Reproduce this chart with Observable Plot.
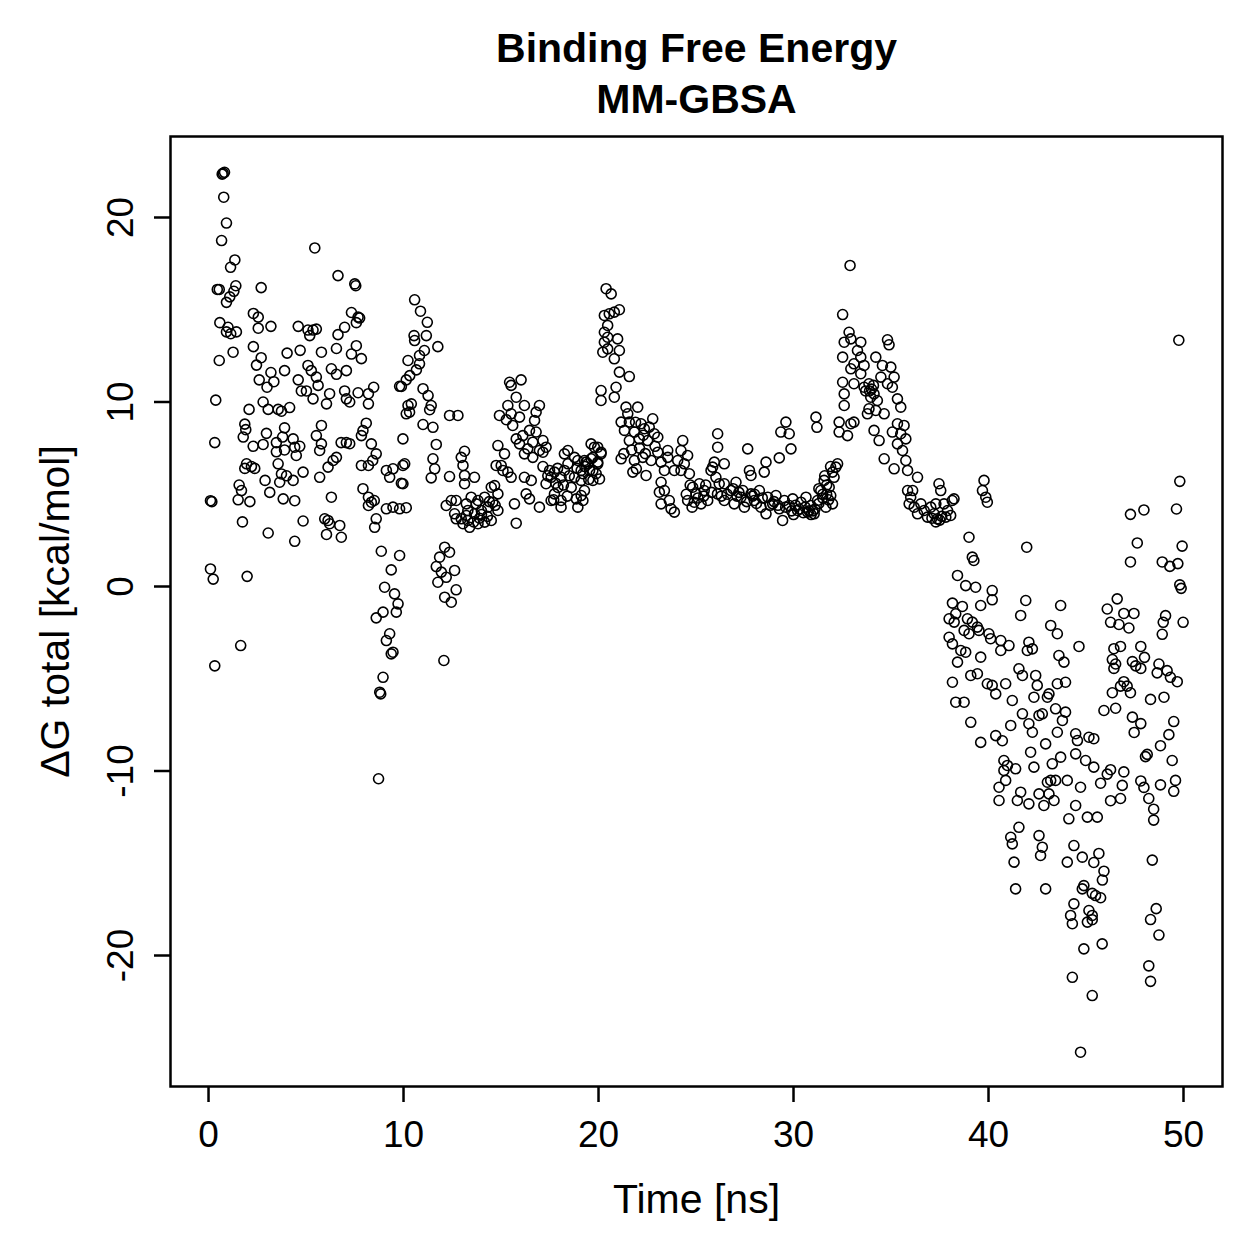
<!DOCTYPE html>
<html>
<head>
<meta charset="utf-8">
<script src="https://cdn.jsdelivr.net/npm/d3@7"></script>
<script src="https://cdn.jsdelivr.net/npm/@observablehq/plot@0.6"></script>
<style>
  body { margin: 0; background: #fff; }
  svg { display: block; }
</style>
</head>
<body>
<div id="chart"></div>
<script>
// MM-GBSA binding free energy per frame: [time (ns), ΔG total (kcal/mol)]
const frames_0_5 = [
  [0.75,22.4],[0.7,22.35],[0.82,22.45],[0.78,21.1],[0.92,19.7],[0.67,18.75],
  [1.35,17.7],[1.13,17.3],[0.45,16.1],[0.55,16.1],[1.4,16.3],[1.3,16.0],[1.09,15.7],[0.92,15.4],
  [2.7,16.2],[0.58,14.3],[1.0,14.05],[1.14,13.7],[1.43,13.8],[0.92,13.8],
  [2.3,14.8],[2.55,14.6],[2.55,14.0],[3.2,14.1],[4.6,14.1],[1.26,12.7],[0.55,12.25],
  [2.3,13.0],[2.7,12.4],[2.46,12.0],[4.03,12.65],[3.9,11.7],[4.7,12.8],
  [3.2,11.6],[2.6,11.2],[3.35,11.1],[3.0,10.8],[4.6,11.2],[4.76,10.6],[0.37,10.1],
  [2.08,9.6],[2.8,10.0],[3.06,9.6],[3.57,9.6],[3.74,9.5],[4.16,9.7],
  [1.86,8.8],[1.91,8.5],[1.78,8.1],[2.97,8.3],[3.9,8.6],[3.8,8.1],[4.34,8.0],[0.32,7.8],
  [2.29,7.6],[2.8,7.7],[3.48,7.8],[3.48,7.3],[3.9,7.4],[4.42,7.55],[4.68,7.6],[4.5,7.1],
  [1.95,6.65],[2.2,6.5],[2.37,6.4],[1.86,6.4],[3.57,6.65],[3.74,6.1],[4.0,6.0],[4.34,5.75],
  [3.65,5.65],[2.9,5.75],[4.85,6.2],[1.57,5.5],[1.69,5.2],[1.52,4.7],[2.12,4.6],[3.14,5.1],
  [3.83,4.75],[4.42,4.65],[0.1,4.65],[0.17,4.6],[1.74,3.5],[3.06,2.9],[4.42,2.45],[4.85,3.55],
  [0.1,0.95],[0.24,0.4],[1.98,0.55],[1.65,-3.2],[0.32,-4.3]
];
const frames_5_10 = [
  [5.45,18.35],[6.64,16.85],[7.5,16.4],[7.55,16.3],
  [7.33,14.85],[7.67,14.6],[7.75,14.55],[7.58,14.3],[6.98,14.05],[6.64,13.65],
  [5.1,13.9],[5.36,13.9],[5.53,13.95],[5.19,13.6],
  [7.58,13.05],[6.56,12.9],[5.79,12.7],[7.33,12.6],[7.84,12.35],
  [5.1,11.98],[5.27,11.7],[5.53,11.35],[6.3,11.8],[6.56,11.5],[7.07,11.7],[5.62,10.9],[5.02,10.6],
  [5.36,10.17],[6.05,9.9],[6.21,10.45],[6.98,10.6],[7.07,10.17],[7.24,10.0],[7.67,10.5],
  [8.2,10.45],[8.47,10.8],[8.2,9.9],[9.8,10.85],
  [5.79,8.73],[5.53,8.18],[5.79,7.73],[5.7,7.37],[6.8,7.8],[7.07,7.8],[7.24,7.74],[8.09,8.85],
  [7.92,8.45],[7.84,8.18],[8.35,7.73],[8.6,7.19],[8.42,6.83],[8.2,6.56],[7.84,6.56],[6.56,7.0],
  [6.39,6.83],[6.13,6.47],[5.7,5.92],[9.12,6.29],[9.46,6.38],[9.29,5.92],[9.97,6.56],[9.97,5.57],
  [6.3,4.84],[7.92,5.3],[8.2,4.84],[8.35,4.57],[8.2,4.39],[8.5,4.66],[9.12,4.21],[9.46,4.3],
  [9.8,4.21],[10.14,4.27],[5.96,3.67],[6.13,3.58],[6.21,3.4],[6.73,3.31],[6.05,2.82],[6.81,2.67],
  [8.6,3.67],[8.52,3.21],[8.86,1.91],[9.37,0.9],[9.8,1.68],[9.03,-0.04],[9.54,-0.4]
];
const frames_10_13 = [
  [10.57,15.54],[10.87,14.92],[11.22,14.32],[11.17,13.6],[10.54,13.6],[10.57,13.33],[11.76,13.0],
  [11.07,12.79],[10.82,12.52],[10.23,12.25],[10.82,12.07],[10.66,11.74],[10.32,11.43],[10.14,11.2],
  [9.89,10.84],[11.0,10.72],[11.26,10.35],[11.42,9.81],[11.34,9.58],[10.23,9.81],[10.4,9.9],
  [10.14,9.36],[10.31,9.45],[11.0,8.78],[11.51,8.63],[12.36,9.27],[12.79,9.27],
  [9.97,8.0],[10.06,6.65],[9.89,5.6],[11.68,7.7],[11.51,6.92],[11.6,6.38],[11.42,5.89],[12.36,5.96],
  [13.13,7.33],[12.96,7.0],[13.05,6.56],[13.13,6.02],[13.13,5.57],
  [12.45,4.66],[12.7,4.66],[12.19,4.39],[12.62,3.94],[12.7,3.67],[12.96,3.67],[13.3,4.12],
  [13.22,3.85],[13.3,3.58],[9.72,-0.94],[9.63,-1.39],[8.95,-1.39],[8.6,-1.7],
  [12.11,2.13],[12.36,1.86],[11.85,1.59],[11.68,1.08],[11.94,0.78],[12.62,0.87],[12.19,0.5],
  [12.7,-0.18],[11.76,0.23],[12.11,-0.58],[12.45,-0.85],
  [9.29,-2.56],[9.12,-2.93],[9.37,-3.65],[9.46,-3.56],[8.95,-4.92],[8.78,-5.73],[8.83,-5.82],
  [12.07,-4.01],[8.72,-10.42]
];
const frames_13_20 = [
  [15.44,11.07],[16.03,11.2],[15.52,10.9],[15.78,10.26],[15.35,9.81],[16.2,9.81],[16.97,9.81],
  [14.92,9.27],[15.52,9.36],[15.95,9.18],[16.8,9.45],[15.27,9.04],[16.72,9.0],
  [15.6,8.73],[16.46,8.46],[16.12,8.18],[16.8,8.37],[15.78,8.0],[15.95,7.73],[16.63,7.82],
  [17.15,7.91],[17.31,7.55],[16.97,7.37],[16.37,7.46],[16.2,7.19],[16.63,7.0],[17.15,7.28],
  [14.84,7.64],[15.18,7.19],[15.01,6.56],[15.1,6.29],[15.35,6.2],[15.52,5.92],[14.75,6.56],[13.64,5.92],
  [16.2,5.92],[16.55,5.75],[16.29,5.02],[16.46,4.75],[16.97,4.3],[15.69,4.48],[15.78,3.43],
  [17.15,6.5],[17.49,6.29],[17.57,5.92],[17.31,5.57],[17.74,6.2],[17.92,5.37],[18.08,5.92],
  [18.25,6.29],[18.43,6.65],[18.77,7.0],[18.43,7.37],[18.25,7.19],[18.94,6.83],[19.28,6.83],
  [19.62,6.92],[19.79,7.55],[19.45,6.65],[19.71,6.29],[19.11,6.29],[18.77,5.92],[19.11,5.75],
  [18.6,5.37],[18.86,4.75],[19.11,4.93],[18.08,4.66],[17.74,5.02],[17.57,4.66],[18.08,4.3],
  [18.94,4.3],[19.96,6.65],[20.05,5.83],
  [13.47,4.84],[13.82,4.66],[14.16,4.84],[14.5,5.38],[14.67,5.47],[14.84,5.02],[14.58,4.57],
  [14.33,4.3],[13.99,4.12],[13.64,3.94],[13.05,3.4],[13.39,3.21],[13.82,3.4],[14.16,3.49],
  [14.5,3.58],[14.84,4.12],[13.73,4.48],[13.22,4.48],
  [13.9,3.7],[14.0,3.9],[14.3,3.8],[14.4,4.6],[13.6,3.5],[14.7,4.4],
  [17.4,6.0],[17.8,5.6],[18.2,5.5],[18.5,6.0],[18.9,6.4],[19.3,6.5],[19.5,5.8],[17.9,6.4],
  [18.4,4.9],[17.7,4.7]
];
const frames_20_26 = [
  [20.39,16.14],[20.65,15.86],[20.3,14.69],[20.55,14.78],[20.81,14.87],[21.07,15.0],[20.47,14.15],
  [20.3,13.78],[20.47,13.51],[20.98,13.42],[20.3,13.24],[20.22,12.7],[20.47,12.88],[20.81,12.34],
  [21.07,12.79],[21.07,11.62],[21.58,11.38],[20.13,10.62],[20.13,10.08],[20.9,10.8],[20.81,10.26],
  [21.41,9.72],[22.01,9.72],[21.5,9.36],[21.16,8.91],[21.58,8.91],[22.18,8.82],[22.78,9.09],
  [21.33,8.46],[21.84,8.37],[22.35,8.55],[22.6,8.64],[22.86,8.28],[22.09,8.0],[22.52,7.91],
  [21.58,7.91],[23.04,8.09],[21.16,6.92],[21.84,6.83],[22.27,7.0],[22.7,6.83],[23.04,7.28],
  [23.55,7.37],[23.21,6.74],[21.94,6.38],[22.44,6.02],[21.76,6.2],[23.38,6.29],
  [24.32,7.91],[24.23,7.37],[24.57,7.1],[24.06,6.83],[24.4,6.65],[23.89,6.29],[24.66,6.11],
  [24.23,6.29],[23.55,7.0],[23.21,5.65],[23.38,5.2],[23.12,5.11],[23.63,4.66],[23.72,4.21],
  [23.89,4.03],[23.21,4.48],[24.83,5.38],[25.17,5.57],[25.42,5.2],[25.0,5.02],[25.6,4.66],
  [24.91,4.57],[25.26,4.48],[24.57,4.66],[26.11,8.28],[26.11,7.55],[25.94,6.74],[25.77,6.29],
  [26.02,5.92],[26.19,5.57],
  [19.62,7.73],[19.96,7.55],[20.13,7.19],[19.71,7.0],[19.36,6.74],[19.96,6.74],[19.54,6.29],
  [19.88,6.11],[19.2,6.11],[19.71,5.75],[19.28,5.2],[19.2,4.66],[20.13,7.28],
  [21.3,7.2],[21.7,7.4],[22.1,7.5],[22.4,7.2],[22.9,7.6],[21.9,8.9],[22.3,8.2],
  [24.5,5.0],[24.7,5.5],[25.1,4.8],[25.4,4.9],[24.8,4.3],[25.8,5.1],[25.5,5.5]
];
const frames_26_32 = [
  [32.52,11.07],[32.6,10.44],[32.6,9.81],[32.34,8.91],[32.34,8.37],[32.77,8.18],
  [31.15,9.18],[31.2,8.63],[29.61,8.91],[29.35,8.37],[29.78,8.28],[29.87,7.46],[29.27,6.97],
  [28.59,6.74],[28.5,6.2],[27.74,6.29],[27.82,6.02],[27.65,7.46],[26.45,6.65],[25.85,6.47],
  [26.45,5.57],[27.05,5.65],
  [26.1,5.02],[26.45,4.66],[26.79,5.2],[26.96,4.48],[27.31,4.84],[27.48,4.3],[27.82,5.02],
  [27.99,4.66],[28.25,5.2],[28.33,4.3],[28.59,3.94],[28.68,4.84],[28.93,4.48],[29.1,4.93],
  [29.27,4.21],[29.44,3.58],[29.53,4.66],[29.78,4.39],[29.96,4.75],[30.21,4.12],[30.38,4.57],
  [30.64,4.84],[30.72,4.03],[30.89,4.39],[31.06,3.94],[31.23,4.66],[31.4,5.2],[31.57,5.75],
  [31.66,4.3],[31.83,5.38],[31.91,4.93],[32.08,5.92],[32.17,6.47],[32.26,6.65],[32.0,4.48],
  [26.6,5.0],[26.9,5.3],[27.1,4.9],[27.2,5.1],[27.6,4.6],[27.9,4.9],[28.1,4.5],[28.4,4.8],
  [28.8,4.4],[29.0,4.6],[29.2,4.4],[29.6,4.3],[29.9,4.1],[30.1,4.4],[30.3,4.2],[30.5,4.0],
  [30.6,4.3],[30.8,4.1],[31.0,4.1],[31.1,4.2],[31.3,4.5],[31.5,4.8],[31.7,5.0],[30.0,3.9],
  [30.9,3.9],[28.0,5.0],[27.4,5.2],[26.3,4.9]
];
const frames_32_38 = [
  [32.9,17.4],[32.52,14.74],[32.85,13.78],[32.94,13.42],[32.6,13.24],[33.45,13.24],[34.82,13.37],
  [34.9,13.1],[33.28,12.79],[32.52,12.43],[33.45,12.43],[33.1,12.07],[33.62,11.98],[34.22,12.43],
  [34.56,11.98],[34.99,11.89],[32.94,11.8],[33.45,11.53],[33.1,10.99],[33.62,10.8],[33.87,10.99],
  [34.13,10.44],[34.48,11.35],[34.82,10.99],[35.07,10.8],[35.16,11.35],[33.96,10.26],[34.3,10.08],
  [35.33,10.17],[35.5,9.72],[33.87,9.63],[33.79,9.36],[34.22,9.54],[34.65,9.36],[32.94,8.82],
  [33.1,8.91],[34.13,8.46],[34.39,7.91],[35.07,8.37],[35.33,8.82],[35.67,8.73],[35.5,8.28],
  [35.76,8.0],[35.33,7.73],[35.59,7.37],[34.65,6.92],[35.16,6.38],[35.76,6.83],[35.85,6.29],
  [36.36,5.92],[36.11,5.2],[33.9,10.6],[34.0,10.7],[34.1,10.9],[33.7,10.6],
  [35.85,5.2],[36.01,4.84],[35.93,4.48],[36.19,4.3],[36.36,3.94],[36.53,4.48],[36.7,4.12],
  [36.87,3.76],[37.04,4.3],[37.21,3.94],[37.38,3.67],[37.46,5.57],[37.55,5.2],[37.72,4.48],
  [37.9,4.12],[38.06,3.85],[38.14,4.66],[38.23,4.75],[37.81,3.76],[37.3,4.48],
  [31.6,6.0],[31.9,6.5],[32.0,6.2],[31.7,5.5],[31.5,5.0],[31.8,4.7],[31.3,5.3],
  [37.3,3.5],[37.5,3.6],[37.6,3.8],[37.1,3.7]
];
const frames_38_42 = [
  [39.77,5.75],[39.69,5.2],[39.86,4.84],[39.94,4.57],[39.0,2.67],[39.17,1.59],[39.25,1.41],[41.96,2.13],
  [38.41,0.6],[38.83,0.05],[39.34,-0.04],[40.19,-0.22],[40.19,-0.72],[39.6,-1.03],[38.15,-0.9],
  [38.66,-1.08],[37.98,-1.75],[38.32,-1.48],[38.24,-1.93],[38.92,-1.75],[39.17,-1.93],[39.43,-2.2],
  [38.75,-2.38],[39.0,-2.56],[39.51,-2.38],[40.02,-2.56],[40.11,-2.83],[37.98,-2.75],[38.15,-3.11],
  [38.58,-3.47],[38.83,-3.56],[38.41,-4.1],[39.6,-3.83],[39.09,-4.82],[39.43,-4.73],[38.15,-5.19],
  [38.32,-6.27],[38.75,-6.27],[39.94,-5.27],[40.19,-5.36],[40.71,-8.36],[41.91,-0.76],[41.65,-1.57],
  [39.6,-8.45],[39.09,-7.36]
];
const frames_40_46 = [
  [43.7,-1.03],[43.19,-2.11],[43.53,-2.56],[44.64,-3.25],[43.61,-3.74],[43.87,-4.1],[42.07,-3.02],
  [41.99,-3.47],[42.25,-3.38],[41.05,-3.2],[40.63,-2.93],[40.63,-3.47],[41.56,-4.46],[41.74,-4.82],
  [42.42,-4.82],[42.5,-5.36],[43.53,-5.27],[43.95,-5.19],[43.1,-5.82],[43.02,-6.0],[40.88,-5.27],
  [40.37,-5.82],[41.22,-6.18],[42.33,-6.0],[41.74,-6.9],[42.59,-6.99],[42.76,-6.9],[43.44,-6.63],
  [43.95,-6.81],[43.79,-7.26],[42.07,-7.44],[42.25,-7.9],[41.14,-7.53],[43.53,-7.9],[42.93,-8.53],
  [42.16,-8.98],[40.37,-8.08],[44.47,-7.98],[44.56,-8.35],[45.15,-8.17],[45.4,-8.25],[44.47,-9.07],
  [44.98,-9.43],[45.4,-9.79],[43.7,-9.25],[43.27,-9.61],[42.33,-9.79],[40.79,-9.43],[40.97,-9.7],
  [40.79,-9.97],[41.39,-9.88],[40.88,-10.51],[40.54,-10.88],[43.02,-10.61],[43.19,-10.51],
  [43.44,-10.51],[44.04,-10.51],[44.72,-10.88],[42.59,-11.24],[43.1,-11.24],[43.36,-11.6],
  [41.65,-11.15],[41.48,-11.6],[40.54,-11.6],[42.07,-11.78],[42.84,-11.87],[44.47,-11.87],
  [44.12,-12.59],[45.07,-12.5],[45.58,-12.5],[41.56,-13.05],[41.14,-13.59],[41.22,-13.95],
  [42.59,-13.5],[42.76,-14.13],[42.67,-14.58],[44.38,-14.04],[44.81,-14.67],[44.04,-14.94],
  [41.31,-14.94],[41.39,-16.39],[42.93,-16.39],[44.89,-16.21],[44.81,-16.39],[45.49,-16.75],
  [44.38,-17.2],[45.15,-17.56],[45.32,-17.83],[44.21,-17.83],[44.3,-18.28],[45.07,-18.19],
  [44.89,-19.64],[44.3,-21.18],[45.32,-22.17],[44.72,-25.24],[45.83,-19.37]
];
const frames_46_50 = [
  [49.76,13.35],[49.81,5.7],[47.28,3.91],[47.97,4.15],[49.64,4.2],[47.63,2.36],[49.93,2.19],
  [47.28,1.33],[48.91,1.33],[49.3,1.09],[49.71,1.24],[49.81,0.09],[49.88,-0.1],[46.6,-0.67],
  [46.09,-1.22],[46.94,-1.46],[47.46,-1.46],[46.26,-1.94],[46.69,-2.06],[47.2,-2.25],[49.08,-1.58],
  [48.96,-1.94],[48.91,-2.59],[49.98,-1.94],
  [46.43,-3.37],[46.77,-3.25],[46.35,-3.96],[46.52,-4.2],[46.43,-4.44],[47.38,-4.07],[47.55,-4.3],
  [47.81,-3.25],[48.0,-3.84],[47.81,-4.44],[48.74,-4.2],[48.65,-4.68],[49.16,-4.56],[49.33,-4.92],
  [49.68,-5.16],[49.0,-6.0],[48.31,-6.12],[46.94,-5.16],[47.11,-5.4],[47.28,-5.76],[46.77,-5.4],
  [46.35,-5.76],[45.92,-6.72],[46.52,-6.6],[47.38,-7.08],[47.81,-7.43],[47.47,-7.91],[48.14,-9.1],
  [48.05,-9.22],[48.82,-8.63],[49.25,-8.03],[49.5,-7.32],[49.42,-9.43],[49.59,-10.51],[49.5,-11.1],
  [48.82,-10.75],[48.47,-12.07],[48.47,-12.66],[47.81,-10.54],[47.97,-10.89],[48.22,-11.49],
  [46.94,-10.05],[46.86,-10.78],[46.26,-9.93],[46.09,-10.17],[45.75,-10.66],[46.77,-11.49],
  [46.26,-11.61],[45.66,-14.47],[45.4,-14.96],[45.92,-15.43],[45.84,-15.91],[45.32,-16.63],
  [45.75,-16.87],[45.32,-18.06],[48.4,-14.83],[48.6,-17.46],[48.31,-18.05],[48.74,-18.89],
  [48.22,-20.56],[48.31,-21.4]
];

// Axis ticks and text
const xTicks = [0, 10, 20, 30, 40, 50];
const yTicks = [-20, -10, 0, 10, 20];
const titleLines = ["Binding Free Energy", "MM-GBSA"];
const xLabel = "Time [ns]";
const yLabel = "ΔG total [kcal/mol]";

const frames = [
  ...frames_0_5, ...frames_5_10, ...frames_10_13, ...frames_13_20, ...frames_20_26,
  ...frames_26_32, ...frames_32_38, ...frames_38_42, ...frames_40_46, ...frames_46_50
].map(([time, dG]) => ({time, dG}));

const font = "'Liberation Sans', Arial, Helvetica, sans-serif";

const chart = Plot.plot({
  width: 1259,
  height: 1259,
  marginLeft: 170,
  marginRight: 37,
  marginTop: 136,
  marginBottom: 173,
  style: {fontFamily: font, background: "#fff", color: "#000"},
  x: {domain: [-1.95, 52.0]},
  y: {domain: [-27.1, 24.39]},
  marks: [
    Plot.dot(frames, {x: "time", y: "dG", r: 5, stroke: "#000", strokeWidth: 1.6, fill: "none"}),
    Plot.frame({stroke: "#000", strokeWidth: 2.5}),
    Plot.axisX({ticks: xTicks, tickSize: 16, tickPadding: 18, fontSize: 37, strokeWidth: 2.5,
                label: null, tickFormat: d => String(d)}),
    Plot.axisY({ticks: yTicks, tickSize: 16, tickPadding: 22, fontSize: 37, strokeWidth: 2.5,
                tickRotate: -90, label: null, tickFormat: d => String(d)}),
    Plot.text([xLabel], {frameAnchor: "bottom", dy: 126, fontSize: 41, text: d => d}),
    Plot.text([yLabel], {frameAnchor: "left", dx: -115, rotate: -90, textAnchor: "middle",
                         fontSize: 41, text: d => d}),
    Plot.text([titleLines[0]], {frameAnchor: "top", dy: -104, fontSize: 41, fontWeight: "bold", text: d => d}),
    Plot.text([titleLines[1]], {frameAnchor: "top", dy: -53, fontSize: 41, fontWeight: "bold", text: d => d})
  ]
});

document.getElementById("chart").append(chart);
</script>
</body>
</html>
